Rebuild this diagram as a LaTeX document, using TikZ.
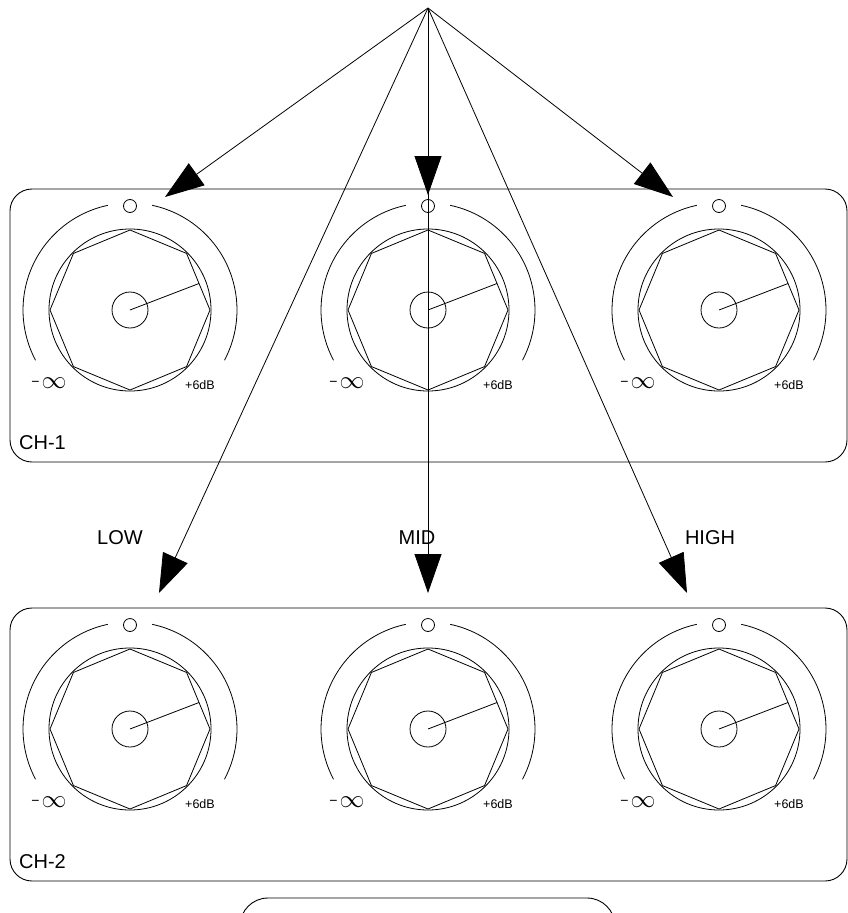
\documentclass[tikz,border=0pt]{standalone}
\usepackage{fontspec}
\setmainfont{Liberation Sans}
\usetikzlibrary{arrows.meta}

\tikzset{
  panel_box/.style={draw,line width=0.9pt,rounded corners=22pt},
  knob_line/.style={line width=0.8pt},
  big_label/.style={font=\fontsize{20}{20}\selectfont,inner sep=0pt},
  small_label/.style={font=\fontsize{12.5}{12.5}\selectfont,inner sep=0pt},
  feed/.style={-{Triangle[length=39pt,width=27pt]},line width=0.8pt},
}

\begin{document}
\begin{tikzpicture}[x=1pt,y=-1pt]
  \useasboundingbox (0,0) rectangle (848,913);

  % two channel panels with three knobs each
  \foreach \row/\cy in {1/310,2/729}{
    \draw[panel_box] (10,\cy-121) rectangle (847,\cy+152);
    \node[big_label,anchor=west] (ch\row) at (19,\cy+133) {CH-\row};
    \foreach \col/\cx in {1/130,2/428,3/719}{
      \begin{scope}[shift={(\cx,\cy)},yscale=-1,knob_line]
        \draw (0,104) circle (6.5);                          % led
        \draw (102:107) arc[start angle=102,end angle=208,radius=107];
        \draw (78:107) arc[start angle=78,end angle=-28,radius=107];
        \draw (0,0) circle (81);
        \draw (0:80) \foreach \a in {45,90,...,315}{ -- (\a:80)} -- cycle;
        \draw (0,0) circle (18);
        \draw (0,0) -- (21:74);                              % pointer
        \node[inner sep=0pt] (minf-\row-\col) at (-81,-73)
          {{\fontsize{14}{14}\selectfont\raisebox{2pt}{−}}\hspace{2pt}{\fontsize{31}{31}\selectfont$\infty$}};
        \node[small_label] (plus-\row-\col) at (70,-75) {+6dB};
      \end{scope}
    }
  }

  % lower panel, only its top edge shows
  \draw[line width=0.9pt,rounded corners=28pt] (240,940) -- (240,898) -- (615,898) -- (615,940);

  \node[big_label] (low) at (120,538) {LOW};
  \node[big_label] (mid) at (417,538) {MID};
  \node[big_label] (high) at (710,538) {HIGH};

  \coordinate (src) at (428,8);
  \coordinate (t_low1) at (165,197);
  \coordinate (t_mid1) at (428,195);
  \coordinate (t_high1) at (673,197);
  \coordinate (t_low2) at (159,593);
  \coordinate (t_mid2) at (428,593);
  \coordinate (t_high2) at (687,593);

  \foreach \t in {t_low1,t_mid1,t_high1,t_low2,t_mid2,t_high2}
    \draw[feed] (src) -- (\t);
\end{tikzpicture}
\end{document}
